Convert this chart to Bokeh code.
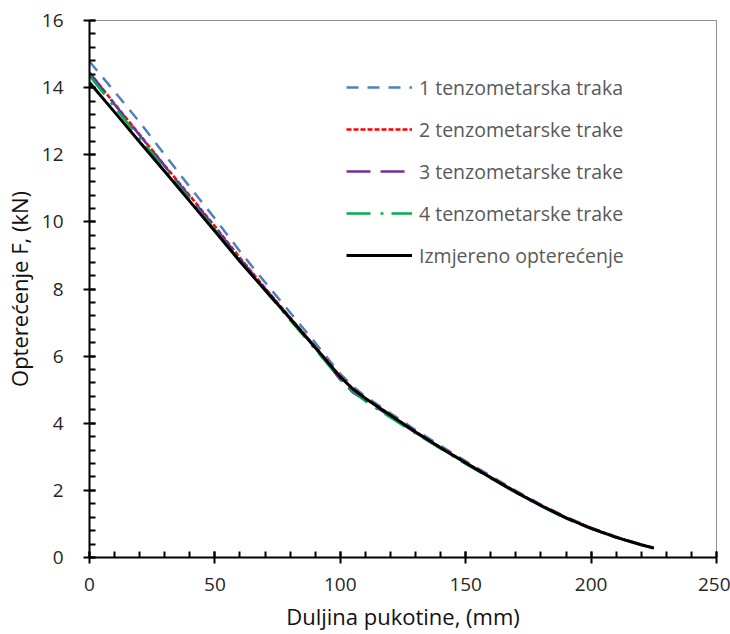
from bokeh.plotting import figure
from bokeh.models import SingleIntervalTicker, Legend, LegendItem, Range1d
from bokeh.embed import file_html
from bokeh.resources import INLINE

# ---- data ----
x_blue = [0, 10, 20, 30, 40, 50, 60, 70, 80, 90, 100, 105, 110, 120, 130, 140, 150, 160, 170, 180, 190, 200, 210, 220, 225]
f_blue = [14.78, 13.88, 12.97, 12.00, 11.04, 10.10, 9.12, 8.20, 7.30, 6.40, 5.47, 5.10, 4.80, 4.30, 3.80, 3.33, 2.87, 2.43, 1.99, 1.58, 1.21, 0.89, 0.62, 0.39, 0.29]

x_red = [0, 10, 20, 30, 40, 50, 60, 70, 80, 90, 100, 105, 110, 120, 130, 140, 150, 160, 170, 180, 190, 200, 210, 220, 225]
f_red = [14.45, 13.52, 12.60, 11.68, 10.78, 9.87, 8.93, 8.03, 7.15, 6.28, 5.40, 5.03, 4.75, 4.25, 3.75, 3.28, 2.83, 2.39, 1.96, 1.56, 1.19, 0.88, 0.61, 0.38, 0.28]

x_purple = [0, 10, 20, 30, 40, 50, 60, 70, 80, 90, 100, 105, 110, 120, 130, 140, 150, 160, 170, 180, 190, 200, 210, 220, 225]
f_purple = [14.45, 13.50, 12.58, 11.66, 10.75, 9.84, 8.90, 8.01, 7.13, 6.24, 5.30, 4.92, 4.68, 4.20, 3.72, 3.26, 2.81, 2.37, 1.94, 1.54, 1.17, 0.86, 0.60, 0.38, 0.28]

x_green = [0, 10, 20, 30, 40, 50, 60, 70, 80, 90, 98, 100, 105, 110, 120, 130, 140, 150, 160, 170, 180, 190, 200, 210, 220, 225]
f_green = [14.35, 13.42, 12.50, 11.58, 10.67, 9.77, 8.84, 7.96, 7.07, 6.20, 5.50, 5.30, 4.96, 4.66, 4.17, 3.70, 3.24, 2.79, 2.36, 1.93, 1.53, 1.16, 0.86, 0.59, 0.37, 0.28]

x_meas = [0, 10, 20, 30, 40, 50, 60, 70, 80, 90, 100, 105, 110, 120, 130, 140, 150, 160, 170, 180, 190, 200, 210, 220, 225]
f_meas = [14.15, 13.27, 12.38, 11.50, 10.61, 9.72, 8.82, 7.97, 7.12, 6.26, 5.38, 5.02, 4.74, 4.24, 3.74, 3.27, 2.82, 2.38, 1.95, 1.55, 1.18, 0.87, 0.60, 0.38, 0.28]

labels = ["1 tenzometarska traka", "2 tenzometarske trake", "3 tenzometarske trake",
          "4 tenzometarske trake", "Izmjereno opterećenje"]

FONT = "Open Sans"

p = figure(width=730, height=634, output_backend="svg", toolbar_location=None,
           x_range=Range1d(0, 250), y_range=Range1d(0, 16),
           min_border_left=88, min_border_right=14, min_border_top=20, min_border_bottom=77)
p.outline_line_color = "#8c8c8c"
p.outline_line_width = 1
p.grid.visible = False
p.background_fill_color = "white"
p.border_fill_color = "white"

r1 = p.line(x_blue, f_blue, line_color="#4F81BD", line_width=2.5, line_dash="12 9")
r2 = p.line(x_red, f_red, line_color="#FF0000", line_width=2.5, line_dash="5 2")
r3 = p.line(x_purple, f_purple, line_color="#7030A0", line_width=2.5, line_dash="24 10")
r4 = p.line(x_green, f_green, line_color="#00B050", line_width=2.5, line_dash="24 10 3 8")
r5 = p.line(x_meas, f_meas, line_color="black", line_width=3)

p.xaxis.ticker = SingleIntervalTicker(interval=50, num_minor_ticks=5)
p.yaxis.ticker = SingleIntervalTicker(interval=2, num_minor_ticks=5)

for ax in (p.xaxis, p.yaxis):
    ax.axis_line_color = "black"
    ax.axis_line_width = 2
    ax.major_tick_line_color = "black"
    ax.major_tick_line_width = 2
    ax.minor_tick_line_color = "black"
    ax.minor_tick_line_width = 2
    ax.major_tick_in = 6
    ax.major_tick_out = 6
    ax.minor_tick_in = 6
    ax.minor_tick_out = 0
    ax.major_label_text_font = FONT
    ax.major_label_text_font_size = "19px"
    ax.major_label_text_color = "#262626"
    ax.axis_label_text_font = FONT
    ax.axis_label_text_font_size = "22px"
    ax.axis_label_text_font_style = "normal"
    ax.axis_label_text_color = "#111111"

p.xaxis.axis_label = "Duljina pukotine, (mm)"
p.yaxis.axis_label = "Opterećenje F, (kN)"
p.yaxis.major_label_standoff = 20
p.xaxis.major_label_standoff = 14
p.xaxis.axis_label_standoff = 7
p.yaxis.axis_label_standoff = 5

legend = Legend(items=[LegendItem(label=labels[0], renderers=[r1]),
                       LegendItem(label=labels[1], renderers=[r2]),
                       LegendItem(label=labels[2], renderers=[r3]),
                       LegendItem(label=labels[3], renderers=[r4]),
                       LegendItem(label=labels[4], renderers=[r5])],
                location=(257, 288))
legend.border_line_color = None
legend.background_fill_alpha = 0
legend.padding = 0
legend.margin = 0
legend.spacing = 14
legend.glyph_width = 66
legend.glyph_height = 28
legend.label_height = 28
legend.label_standoff = 7
legend.label_text_font = FONT
legend.label_text_font_size = "19.5px"
legend.label_text_color = "#595959"
p.add_layout(legend)

open("out.html", "w").write(file_html(p, INLINE))
